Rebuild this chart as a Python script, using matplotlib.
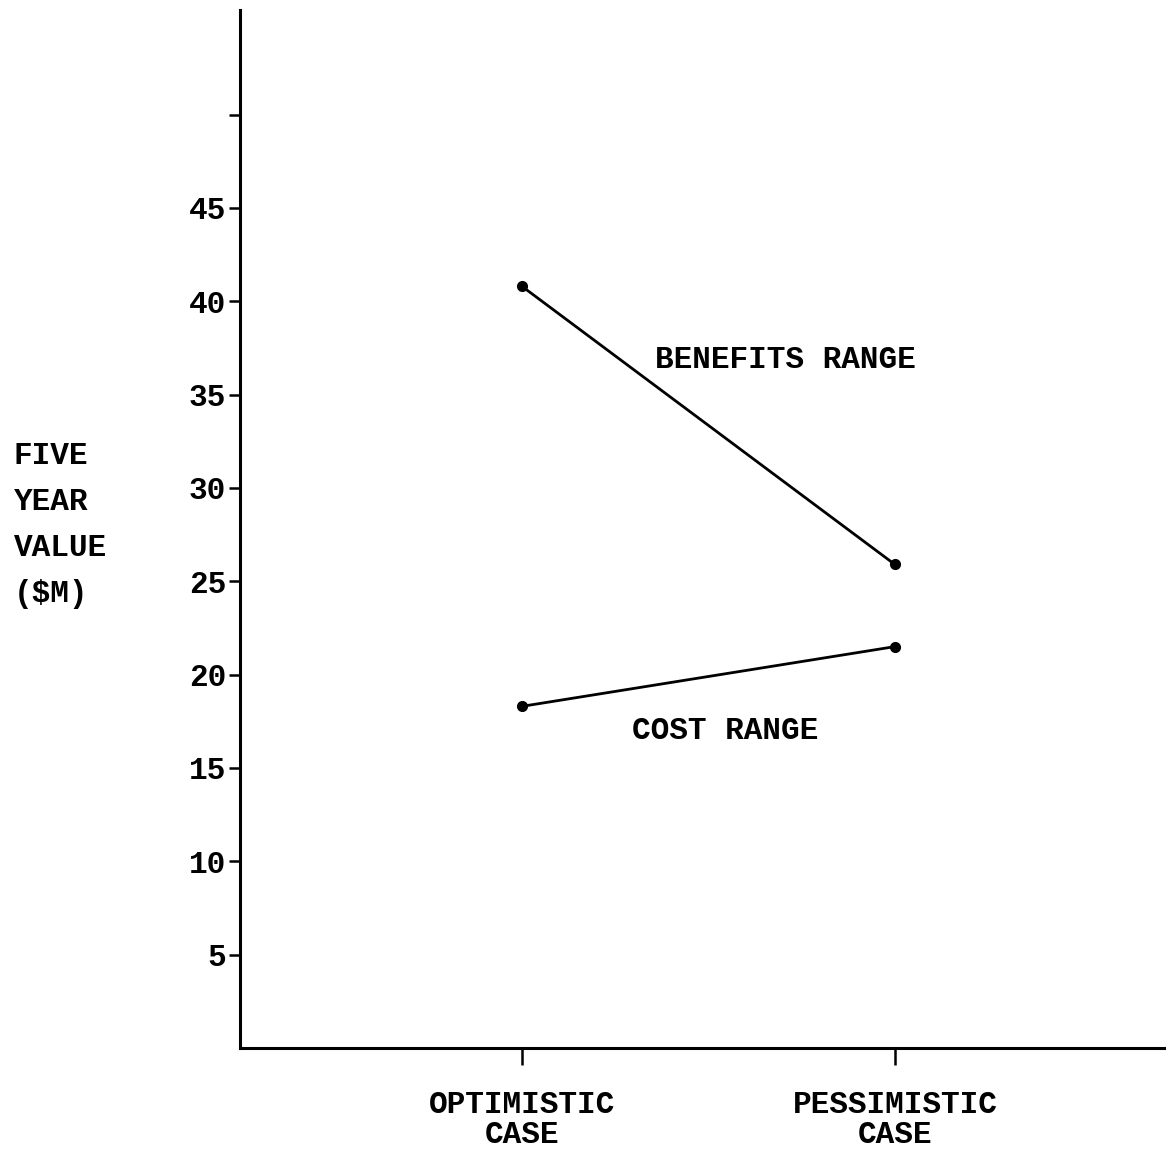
import matplotlib
matplotlib.use("Agg")
import matplotlib.pyplot as plt

cases = ["OPTIMISTIC\nCASE", "PESSIMISTIC\nCASE"]
benefits = [40.8, 25.9]
costs = [18.3, 21.5]
yticks = [5, 10, 15, 20, 25, 30, 35, 40, 45, 50]
ylabels = ["5", "10", "15", "20", "25", "30", "35", "40", "45", ""]

plt.rcParams['font.family'] = ['Liberation Mono', 'DejaVu Sans']
plt.rcParams['font.weight'] = 'bold'
FS = 22.4

fig = plt.figure(figsize=(11.66, 11.53), dpi=100)
ax = fig.add_axes([240/1166, 1 - 1048/1153, 1 - 240/1166, (1048 - 10)/1153])

xs = [1, 2]
ax.plot(xs, benefits, color='black', lw=2.0, marker='o', ms=7)
ax.plot(xs, costs, color='black', lw=2.0, marker='o', ms=7)

ax.set_xlim(0.244, 2.727)
ax.set_ylim(0, 55.6)
ax.set_yticks(yticks)
ax.set_yticklabels(ylabels, fontsize=FS, fontweight='bold')
ax.set_xticks(xs)
ax.set_xticklabels(cases, fontsize=FS, fontweight='bold', linespacing=1.0)
ax.tick_params(axis='y', direction='out', length=8, width=1.8, pad=2)
ax.tick_params(axis='x', direction='out', length=12, width=1.8, pad=18)

for s in ['top', 'right']:
    ax.spines[s].set_visible(False)
for s in ['left', 'bottom']:
    ax.spines[s].set_linewidth(2.2)

ax.text(1.357, 36.85, "BENEFITS RANGE", fontsize=FS, fontweight='bold', va='center', ha='left')
ax.text(1.295, 16.98, "COST RANGE", fontsize=FS, fontweight='bold', va='center', ha='left')

fig.text(14/1166, 1 - 441/1153, "FIVE\nYEAR\nVALUE\n($M)", fontsize=FS, fontweight='bold',
         va='top', ha='left', linespacing=1.70)

fig.savefig("out.png", dpi=100)
